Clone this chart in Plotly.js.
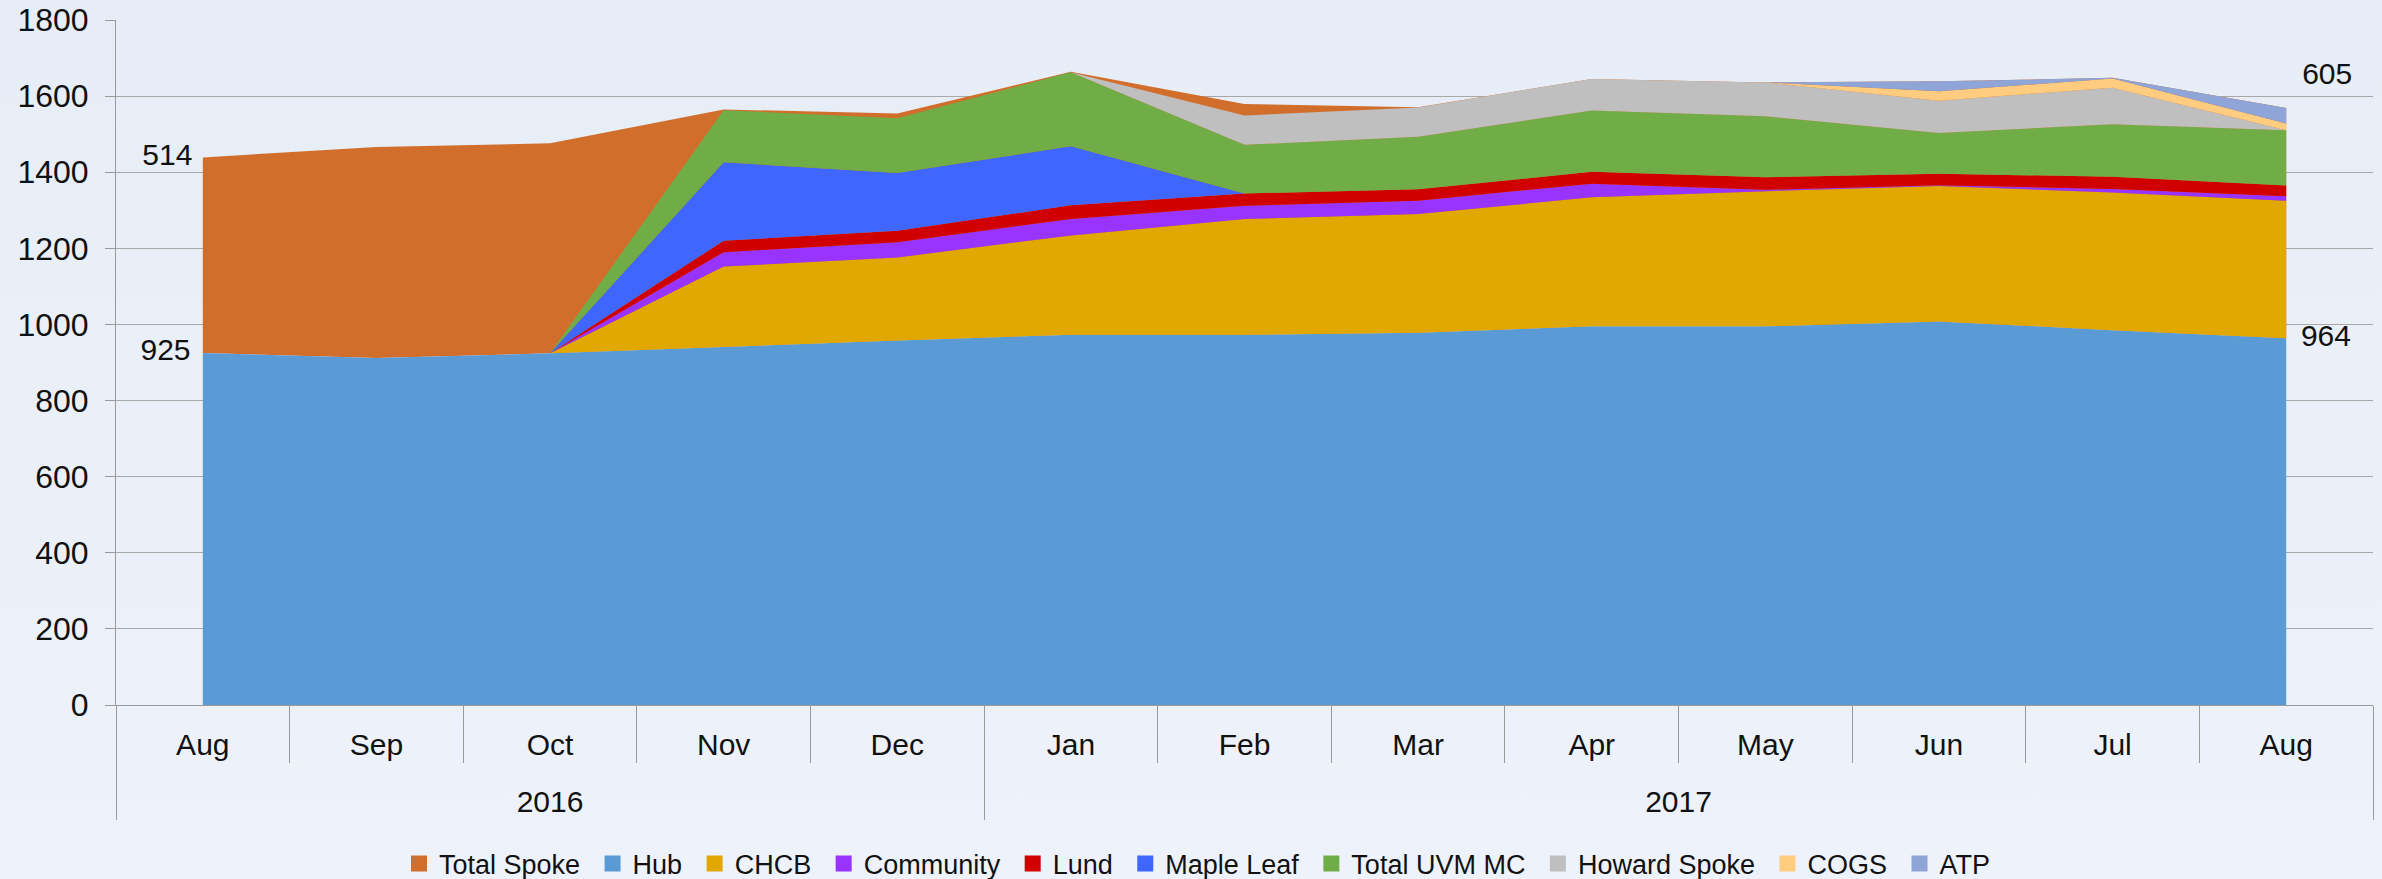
<!DOCTYPE html>
<html><head><meta charset="utf-8">
<script src="https://cdn.plot.ly/plotly-3.0.1.min.js"></script>
<style>
html,body{margin:0;padding:0;background:linear-gradient(#E7EDF6,#EEF2FA);}
#chart{width:2382px;height:879px;}
</style></head><body><div id="chart"></div>
<script>
// ---- data ----
const months = ['Aug','Sep','Oct','Nov','Dec','Jan','Feb','Mar','Apr','May','Jun','Jul','Aug'];
const years = ['2016','2017'];
const monthYear = ['2016','2016','2016','2016','2016','2017','2017','2017','2017','2017','2017','2017','2017'];

const totalSpoke = [514,554,552,624,596,691,606,593,650,641,631,663,605];
const hub        = [925,912,924,941,958,973,973,978,995,995,1008,985,964];
const chcb       = [0,0,0,211,218,261,304,312,339,355,356,362,361];
const community  = [0,0,0,38,40,43,35,35,36,4,2,9,12];
const lund       = [0,0,0,30,30,36,32,30,31,33,30,32,28];
const mapleLeaf  = [0,0,0,206,152,155,0,0,0,0,0,0,0];
const uvm        = [0,0,0,137,144,195,128,138,161,160,107,138,145];
const howard     = [0,0,0,0,0,0,77,77,83,89,85,96,0];
const cogs       = [0,0,0,0,0,0,0,0,0,0,25,24,18];
const atp        = [0,0,0,0,0,0,0,0,0,0,26,2,41];

const seriesNames = ['Total Spoke','Hub','CHCB','Community','Lund','Maple Leaf','Total UVM MC','Howard Spoke','COGS','ATP'];
const seriesColors = ['#D26E2C','#5B9BD5','#E0A800','#9933FF','#D00000','#3F66FF','#70AD47','#BFBFBF','#FFCC80','#8FA5D7'];

// ---- build ----
const xi = months.map((m,i)=>i);
const last = months.length-1;
const edgeText = arr => arr.map((v,i)=> (i===0||i===last) ? String(v) : '');
const edgeSize = (a,b) => xi.map(i=> i===0 ? a : (i===last ? b : 0));

const traces = [];
// Total Spoke drawn on top of Hub (own stack), behind components
traces.push({x:xi, y:hub, stackgroup:'spoke', mode:'lines', line:{width:0}, fillcolor:'rgba(0,0,0,0)', showlegend:false, hoverinfo:'skip'});
traces.push({x:xi, y:totalSpoke, stackgroup:'spoke', mode:'lines+markers+text', line:{width:0}, fillcolor:seriesColors[0],
  marker:{size:edgeSize(15,24), opacity:0, color:seriesColors[0]},
  text:edgeText(totalSpoke), textposition:xi.map(i=> i===0?'middle left':(i===last?'top right':'middle center')),
  textfont:{size:30,color:'#111'}, cliponaxis:false, showlegend:false, name:seriesNames[0]});

const stackVals = [hub,chcb,community,lund,mapleLeaf,uvm,howard,cogs,atp];
stackVals.forEach((vals,k)=>{
  const t = {x:xi, y:vals, stackgroup:'main', mode:'lines', line:{width:0}, fillcolor:seriesColors[k+1], showlegend:false, name:seriesNames[k+1]};
  if(k===0){
    t.mode='lines+markers+text';
    t.marker={size:edgeSize(18,22), opacity:0, color:seriesColors[1]};
    t.text=edgeText(vals);
    t.textposition=xi.map(i=> i===0?'middle left':(i===last?'middle right':'middle center'));
    t.textfont={size:30,color:'#111'};
    t.cliponaxis=false;
  }
  traces.push(t);
});
// legend entries (square swatches), placed on the year axis
seriesNames.forEach((n,k)=>{
  traces.push({x:[null], y:[null], xaxis:'x2', mode:'markers', marker:{symbol:'square', size:16, color:seriesColors[k]}, name:n+'\u00a0', showlegend:true, hoverinfo:'skip'});
});

// axis helpers from month/year arrays
const yearCenters = years.map(yv=>{const idx=xi.filter(i=>monthYear[i]===yv); return (idx[0]+idx[idx.length-1])/2;});
const yearBounds = [-0.5].concat(years.map(yv=>{const idx=xi.filter(i=>monthYear[i]===yv); return idx[idx.length-1]+0.5;}));
const monthBounds = [-0.5].concat(xi.map(i=>i+0.5));

const axisGray = '#9A9A9A';
const layout = {
  width:2382, height:879,
  paper_bgcolor:'rgba(0,0,0,0)', plot_bgcolor:'rgba(0,0,0,0)',
  margin:{l:116, r:9, t:20, b:174},
  font:{family:'Liberation Sans, Arial, sans-serif', color:'#111'},
  showlegend:true,
  hovermode:false,
  xaxis:{range:[-0.5,12.5], tickmode:'array', tickvals:xi, ticktext:months, ticks:'', showgrid:false, zeroline:false,
    showline:true, linecolor:axisGray, linewidth:1, tickfont:{size:30, color:'#111'}, ticklabelstandoff:13,
    minor:{tickmode:'array', tickvals:monthBounds, ticks:'outside', ticklen:57, tickcolor:axisGray, tickwidth:1, showgrid:false}},
  xaxis2:{overlaying:'x', anchor:'y', side:'bottom', range:[-0.5,12.5], tickmode:'array', tickvals:yearCenters, ticktext:years,
    ticks:'', showgrid:false, zeroline:false, showline:false, tickfont:{size:30, color:'#111'}, ticklabelstandoff:76,
    minor:{tickmode:'array', tickvals:yearBounds, ticks:'outside', ticklen:114, tickcolor:axisGray, tickwidth:1, showgrid:false}},
  yaxis:{range:[0,1800], tickmode:'linear', tick0:0, dtick:200, ticks:'outside', ticklen:10, tickcolor:axisGray, tickwidth:1,
    showline:true, linecolor:axisGray, linewidth:1, gridcolor:'#A8A8A8', gridwidth:1, zeroline:false, tickfont:{size:32, color:'#111'},
    ticklabelstandoff:10},
  legend:{orientation:'h', xref:'container', yref:'container', x:399/2382, y:1-864/879, xanchor:'left', yanchor:'middle',
    font:{size:27, color:'#111'}, bgcolor:'rgba(0,0,0,0)', traceorder:'normal'}
};

Plotly.newPlot('chart', traces, layout, {displayModeBar:false, staticPlot:true});
</script></body></html>
